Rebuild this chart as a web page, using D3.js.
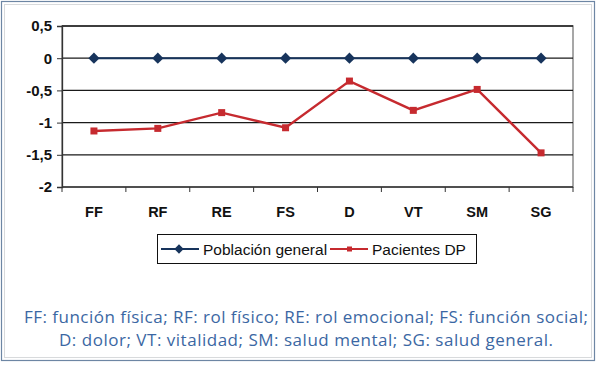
<!DOCTYPE html>
<html>
<head>
<meta charset="utf-8">
<script src="https://cdn.jsdelivr.net/npm/d3@7"></script>
<style>
  body { margin: 0; background: #fff; }
  svg { display: block; }
</style>
</head>
<body>
<script>
// datos del gráfico
var categorias = ["FF", "RF", "RE", "FS", "D", "VT", "SM", "SG"];
var poblacionGeneral = [0, 0, 0, 0, 0, 0, 0, 0];
var pacientesDP = [-1.13, -1.09, -0.845, -1.08, -0.355, -0.81, -0.485, -1.47];
var ticksY = [0.5, 0, -0.5, -1, -1.5, -2];
var nombresSeries = ["Población general", "Pacientes DP"];
var notaLineas = [
  "FF: función física; RF: rol físico; RE: rol emocional; FS: función social;",
  "D: dolor; VT: vitalidad; SM: salud mental; SG: salud general."
];

var width = 600, height = 368;
var margin = {top: 26, right: 27, bottom: 181, left: 62};

var svg = d3.select("body")
  .append("svg")
  .attr("width", width)
  .attr("height", height);

// marcos
svg.append("rect").attr("width", width).attr("height", height).attr("fill", "#fff");
svg.append("rect")
  .attr("x", 1.5).attr("y", 1.5).attr("width", 593).attr("height", 359)
  .attr("fill", "none").attr("stroke", "#6d86a4").attr("stroke-width", 1.2);
svg.append("rect")
  .attr("x", 4.5).attr("y", 4.5).attr("width", 587).attr("height", 353)
  .attr("fill", "none").attr("stroke", "#d8dadc").attr("stroke-width", 1);

// escalas
var x = d3.scaleBand().domain(categorias).range([margin.left, width - margin.right]);
var y = d3.scaleLinear().domain([-2, 0.5]).range([height - margin.bottom, margin.top]);

var g = svg.append("g");

// borde del área de trazado
g.append("rect")
  .attr("x", margin.left).attr("y", y(0.5))
  .attr("width", x.range()[1] - margin.left).attr("height", y(-2) - y(0.5))
  .attr("fill", "none").attr("stroke", "#8a8a8a").attr("stroke-width", 1.5);

// líneas de cuadrícula
g.selectAll(".grid")
  .data(ticksY.filter(function(d) { return d > -2; }))
  .enter().append("line")
  .attr("x1", margin.left).attr("x2", x.range()[1])
  .attr("y1", function(d) { return y(d); }).attr("y2", function(d) { return y(d); })
  .attr("stroke", "#1a1a1a").attr("stroke-width", 1.3);

// eje Y
var yAxis = d3.axisLeft(y).tickValues(ticksY).tickSize(5).tickPadding(5)
  .tickFormat(function(d) { return String(d).replace(".", ","); });
var gy = g.append("g").attr("transform", "translate(" + margin.left + ",0)").call(yAxis);
gy.select(".domain").attr("stroke", "#333").attr("stroke-width", 1.3);
gy.selectAll(".tick line").attr("stroke", "#333");
gy.selectAll(".tick text")
  .attr("font-family", "Liberation Sans, Arial, sans-serif")
  .attr("font-weight", "bold").attr("font-size", 15).attr("fill", "#111");

// eje X
var limites = categorias.map(function(c) { return x(c); }).concat([x.range()[1]]);
var gx = g.append("g");
gx.append("line")
  .attr("x1", margin.left).attr("x2", x.range()[1])
  .attr("y1", y(-2)).attr("y2", y(-2))
  .attr("stroke", "#333").attr("stroke-width", 1.3);
gx.selectAll(".tk").data(limites).enter().append("line")
  .attr("x1", function(d) { return d; }).attr("x2", function(d) { return d; })
  .attr("y1", y(-2)).attr("y2", y(-2) + 5)
  .attr("stroke", "#333");
gx.selectAll(".lbl").data(categorias).enter().append("text")
  .attr("x", function(d) { return x(d) + x.bandwidth() / 2; })
  .attr("y", y(-2) + 30)
  .attr("text-anchor", "middle")
  .attr("font-family", "Liberation Sans, Arial, sans-serif")
  .attr("font-weight", "bold").attr("font-size", 14.5).attr("fill", "#111")
  .text(function(d) { return d; });

var cx = function(d, i) { return x(categorias[i]) + x.bandwidth() / 2; };
var linea = d3.line()
  .x(function(d, i) { return x(categorias[i]) + x.bandwidth() / 2; })
  .y(function(d) { return y(d); });

// serie roja
g.append("path").datum(pacientesDP)
  .attr("d", linea).attr("fill", "none")
  .attr("stroke", "#c62a2f").attr("stroke-width", 2.4);
g.selectAll(".sq").data(pacientesDP).enter().append("rect")
  .attr("x", function(d, i) { return cx(d, i) - 3.5; })
  .attr("y", function(d) { return y(d) - 3.5; })
  .attr("width", 7).attr("height", 7)
  .attr("fill", "#c62a2f");

// serie azul
g.append("path").datum(poblacionGeneral)
  .attr("d", linea).attr("fill", "none")
  .attr("stroke", "#17345c").attr("stroke-width", 2);
var diamante = d3.symbol().type(d3.symbolDiamond2).size(80);
g.selectAll(".dm").data(poblacionGeneral).enter().append("path")
  .attr("d", diamante)
  .attr("transform", function(d, i) { return "translate(" + cx(d, i) + "," + y(d) + ")"; })
  .attr("fill", "#17345c");

// leyenda
var ley = svg.append("g");
ley.append("rect")
  .attr("x", 157.5).attr("y", 234.5).attr("width", 319).attr("height", 29)
  .attr("fill", "#fff").attr("stroke", "#111").attr("stroke-width", 1);
var colores = ["#17345c", "#c62a2f"];
var posLey = [161, 330];
nombresSeries.forEach(function(n, i) {
  var x0 = posLey[i];
  ley.append("line").attr("x1", x0).attr("x2", x0 + 38).attr("y1", 249).attr("y2", 249)
    .attr("stroke", colores[i]).attr("stroke-width", 2);
  if (i === 0) {
    ley.append("path").attr("d", d3.symbol().type(d3.symbolDiamond2).size(55))
      .attr("transform", "translate(" + (x0 + 18) + ",249)").attr("fill", colores[i]);
  } else {
    ley.append("rect").attr("x", x0 + 17).attr("y", 246.5).attr("width", 5).attr("height", 5)
      .attr("fill", colores[i]);
  }
  ley.append("text").attr("x", x0 + 42).attr("y", 255)
    .attr("font-family", "Liberation Sans, Arial, sans-serif")
    .attr("font-size", 15.5).attr("fill", "#111")
    .text(n);
});

// nota al pie
var anchos = [564, 494];
svg.selectAll(".nota").data(notaLineas).enter().append("text")
  .attr("x", 306)
  .attr("y", function(d, i) { return 323 + i * 23; })
  .attr("text-anchor", "middle")
  .attr("font-family", "Open Sans, sans-serif")
  .attr("font-size", 17).attr("fill", "#3b67a3")
  .attr("textLength", function(d, i) { return anchos[i]; })
  .attr("lengthAdjust", "spacing")
  .text(function(d) { return d; });
</script>
</body>
</html>
